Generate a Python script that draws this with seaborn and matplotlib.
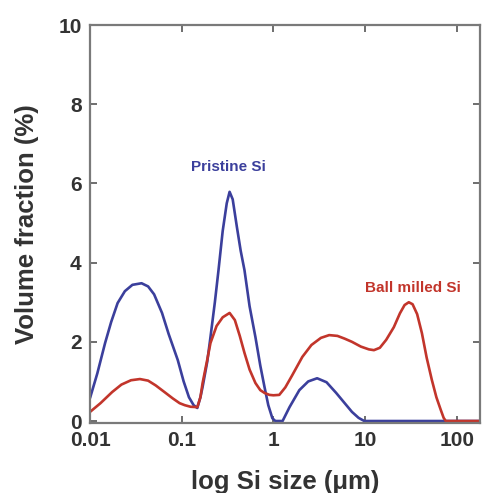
import matplotlib
matplotlib.use("Agg")
import matplotlib.pyplot as plt
import matplotlib.ticker as ticker
import seaborn as sns
import pandas as pd

# particle size (um) and volume fraction (%)
pristine_size = [0.01, 0.012, 0.0146, 0.017, 0.020, 0.024, 0.029, 0.0365, 0.043, 0.05,
                 0.061, 0.072, 0.0906, 0.105, 0.12, 0.135, 0.148, 0.16, 0.169, 0.19,
                 0.206, 0.23, 0.252, 0.28, 0.31, 0.333, 0.36, 0.40, 0.44, 0.484,
                 0.55, 0.637, 0.72, 0.80, 0.88, 0.975, 1.05, 1.26, 1.5, 1.92, 2.4,
                 3.0, 3.8, 4.84, 6.0, 7.2, 8.5, 9.8, 20, 50, 100, 180]
pristine_frac = [0.58, 1.2, 1.97, 2.5, 2.98, 3.28, 3.44, 3.48, 3.4, 3.2,
                 2.73, 2.2, 1.54, 1.0, 0.6, 0.4, 0.33, 0.6, 0.86, 1.5,
                 2.12, 3.0, 3.81, 4.8, 5.5, 5.79, 5.6, 4.9, 4.3, 3.81,
                 2.9, 2.12, 1.4, 0.86, 0.4, 0.07, 0.0, 0.0, 0.35, 0.78, 1.0,
                 1.08, 0.98, 0.71, 0.45, 0.23, 0.08, 0.0, 0.0, 0.0, 0.0, 0.0]

milled_size = [0.01, 0.013, 0.0174, 0.022, 0.028, 0.035, 0.043, 0.052, 0.065, 0.08,
               0.095, 0.108, 0.125, 0.148, 0.16, 0.169, 0.19, 0.206, 0.24, 0.28,
               0.333, 0.38, 0.43, 0.484, 0.55, 0.637, 0.72, 0.80, 0.906, 1.0,
               1.16, 1.35, 1.6, 2.07, 2.6, 3.3, 4.06, 5.0, 6.0, 7.2, 9.0, 11,
               12.5, 14.5, 17, 20.6, 24, 27, 30, 33, 37, 41.7, 47, 53.5, 60, 67,
               72, 76, 100, 180]
milled_frac = [0.23, 0.45, 0.73, 0.92, 1.03, 1.06, 1.02, 0.9, 0.73, 0.57,
               0.45, 0.4, 0.36, 0.35, 0.6, 0.96, 1.55, 1.97, 2.4, 2.62,
               2.73, 2.55, 2.15, 1.72, 1.3, 0.96, 0.78, 0.71, 0.66, 0.65,
               0.66, 0.85, 1.15, 1.62, 1.92, 2.1, 2.17, 2.15, 2.08, 2.0, 1.88, 1.81,
               1.79, 1.85, 2.05, 2.37, 2.72, 2.93, 3.0, 2.95, 2.7, 2.22, 1.6, 1.04, 0.6, 0.28,
               0.08, 0.0, 0.0, 0.0]

blue = "#3b3f9c"
red = "#c2352b"

df = pd.concat([
    pd.DataFrame({"size": pristine_size, "frac": pristine_frac, "sample": "Pristine Si"}),
    pd.DataFrame({"size": milled_size, "frac": milled_frac, "sample": "Ball milled Si"}),
])

sns.set_style("ticks")
plt.rcParams['font.family'] = ['Liberation Sans', 'DejaVu Sans']

fig = plt.figure(figsize=(4.84, 4.93), dpi=100)
ax = fig.add_axes([0.186, 0.142, 0.806, 0.807])

sns.lineplot(data=df, x="size", y="frac", hue="sample", sort=False,
             palette={"Pristine Si": blue, "Ball milled Si": red},
             linewidth=1.9, legend=False, ax=ax)

ax.set_xscale("log")
ax.set_xlim(0.01, 180)
ax.set_ylim(-0.05, 10)
ax.xaxis.set_major_locator(ticker.FixedLocator([0.01, 0.1, 1, 10, 100]))
ax.xaxis.set_major_formatter(ticker.FixedFormatter(["0.01", "0.1", "1", "10", "100"]))
ax.xaxis.set_minor_locator(ticker.NullLocator())
ax.set_yticks([0, 2, 4, 6, 8, 10])

for s in ax.spines.values():
    s.set_color("#7a7a7a")
    s.set_linewidth(1.6)
ax.tick_params(direction="in", length=5, width=1.2, color="#555555",
               top=True, right=True, labelsize=15, labelcolor="#333333", pad=6)
for lab in ax.get_xticklabels() + ax.get_yticklabels():
    lab.set_fontweight("bold")

ax.set_xlabel("log Si size (μm)", fontsize=18.5, fontweight="bold", color="#333333", labelpad=14)
ax.set_ylabel("Volume fraction (%)", fontsize=18.5, fontweight="bold", color="#333333", labelpad=14)

ax.text(0.324, 6.41, "Pristine Si", color=blue, fontsize=11, fontweight="bold",
        ha="center", va="center")
ax.text(33, 3.36, "Ball milled Si", color=red, fontsize=11, fontweight="bold",
        ha="center", va="center")

fig.savefig("out.png", dpi=100)
